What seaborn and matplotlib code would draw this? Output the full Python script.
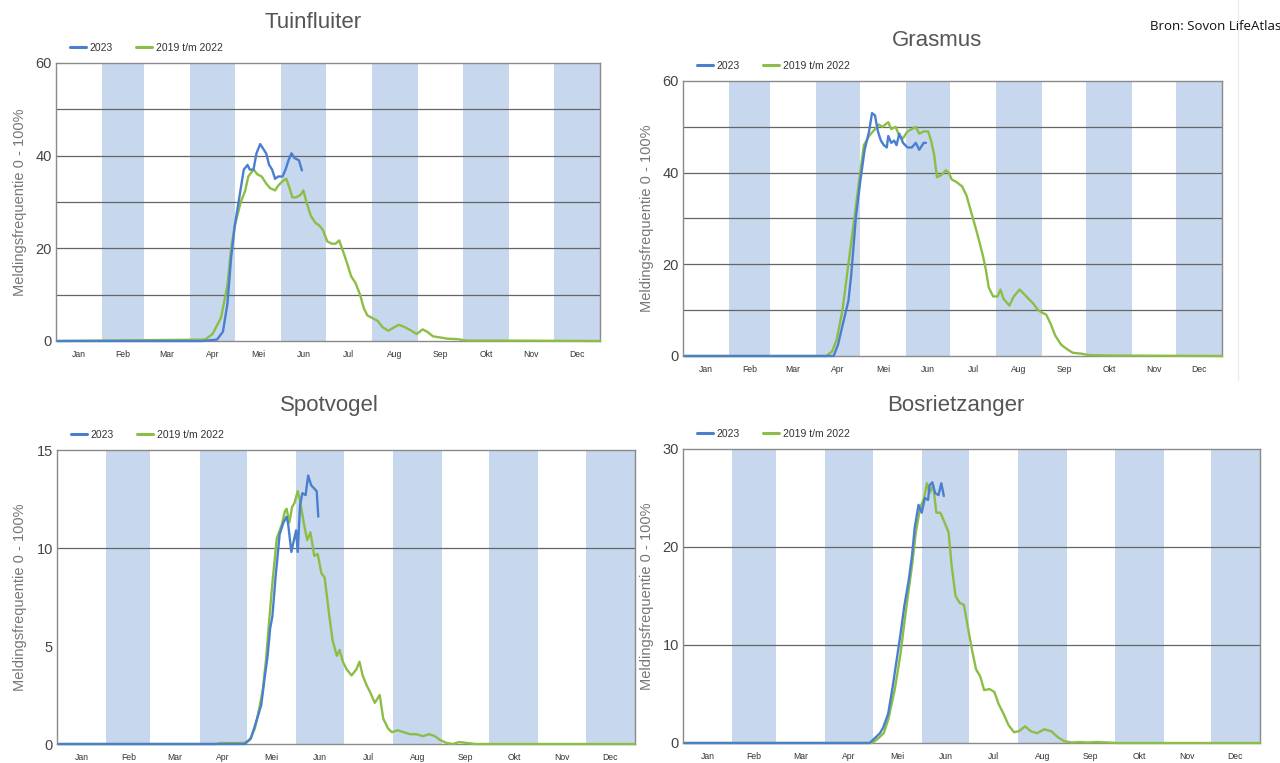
import matplotlib
matplotlib.use("Agg")
import matplotlib.pyplot as plt
from matplotlib.lines import Line2D
import seaborn as sns

# ── DATA ──────────────────────────────────────────────────────────────────────
months = ["Jan", "Feb", "Mar", "Apr", "Mei", "Jun", "Jul", "Aug", "Sep", "Okt", "Nov", "Dec"]
month_starts = [0, 31, 59, 90, 120, 151, 181, 212, 243, 273, 304, 334, 365]
series_labels = ["2023", "2019 t/m 2022"]

tuin_days_2023 = [1, 98, 108, 112, 115, 117.5, 120, 123, 126, 128.5, 130, 132.5, 134.5, 137, 139,
                  141, 143, 145, 147, 149, 152, 154, 156, 158, 160, 163, 165]
tuin_2023 = [0, 0, 0.3, 2, 8, 18, 25, 31, 37, 38, 37, 37, 40.5, 42.5, 41.5,
             40.5, 38, 37, 35, 35.5, 35.5, 37, 39, 40.5, 39.5, 39, 36.8]
tuin_days_ref = [1, 100, 105, 110.7, 115, 117.5, 120, 124, 127, 129, 132.6, 135, 138, 141, 143.6,
                 147, 149, 152, 154.5, 156.7, 158.6, 161, 164, 166, 168, 171, 174, 176.4, 179,
                 182, 185, 187.6, 190, 193, 195.6, 198, 201, 204, 206.6, 209, 212, 216, 219, 223,
                 226, 230, 234, 238, 242, 246, 249, 253, 257, 262.7, 269.5, 275, 291, 365]
tuin_ref = [0, 0.3, 1.5, 5, 12, 20, 25, 30, 32.5, 35.5, 37, 36, 35.5, 34, 33,
            32.5, 33.5, 34.5, 35, 33, 31, 31, 31.5, 32.5, 30, 27, 25.5, 25, 24,
            21.5, 21, 21, 21.7, 19, 16.5, 14, 12.5, 10, 7, 5.5, 5, 4.3, 3, 2.2,
            2.8, 3.5, 3, 2.3, 1.5, 2.5, 2, 1, 0.8, 0.5, 0.4, 0.1, 0.1, 0]

gras_days_2023 = [1, 102, 105, 109, 112, 114, 117, 120, 123, 126, 128, 130, 132, 134, 136, 138,
                  139, 141, 143, 144.6, 146.5, 149, 152, 155, 157.6, 160, 163, 164.5]
gras_2023 = [0, 0, 2.5, 8, 12, 18, 30, 38, 45, 49, 53, 52.5, 49, 47, 46, 45.5,
             48, 46.5, 47, 46, 48.5, 46.5, 45.5, 45.5, 46.5, 45, 46.5, 46.5]
gras_days_ref = [1, 97, 101, 104, 108, 112, 116, 120, 122.5, 126, 130, 132.6, 135, 139, 141, 144,
                 146.5, 149, 152, 155, 157.6, 160, 163, 166, 168, 170, 172, 175, 178, 180, 182,
                 185, 189, 192, 195.5, 199, 203, 205, 207, 210, 213, 215, 217, 221, 224, 228,
                 231, 234, 237, 240.5, 243, 246, 249, 252, 256, 260, 264, 270, 275, 289, 365]
gras_ref = [0, 0, 1, 3.5, 10, 20, 30, 40, 46, 48, 49.5, 50.5, 50, 51, 49.5, 50,
            48, 47.5, 49, 49.5, 50, 48.5, 49, 49, 47, 44, 39, 39.5, 40.5, 40, 38.5,
            38, 37, 35, 31, 27, 22, 19, 15, 13, 13, 14.5, 12.5, 11, 13, 14.5,
            13.5, 12.5, 11.5, 10, 9.5, 9, 7, 4.5, 2.5, 1.5, 0.7, 0.5, 0.2, 0.1, 0]

spot_days_2023 = [1, 118.6, 122.5, 126.4, 129, 131, 133, 134.6, 136, 138, 140.6, 143, 145, 146,
                  148, 149.6, 151, 152, 153.5, 155, 157, 158.6, 160.5, 164, 165]
spot_2023 = [0, 0, 0.3, 1.3, 2, 3.3, 4.5, 5.9, 6.5, 8.5, 10.7, 11.3, 11.6, 11.2,
             9.8, 10.4, 10.9, 9.8, 12.2, 12.8, 12.7, 13.7, 13.2, 12.9, 11.6]
spot_days_ref = [1, 100, 103, 118, 121.7, 125, 127.7, 130, 132, 134, 136, 138.8, 142, 144, 145,
                 146.7, 148.5, 150, 152, 153.5, 156, 158, 160, 162.5, 164.6, 167, 169, 171.7,
                 174, 176.7, 178.5, 180.5, 183, 186, 189, 191, 193, 195.5, 198, 200.7, 203.8,
                 206, 209, 211.5, 215, 219, 223, 227, 231, 235, 238.6, 242, 246, 250, 254,
                 259, 264.4, 365]
spot_ref = [0, 0, 0.05, 0.05, 0.2, 0.8, 1.8, 2.8, 4.3, 6.3, 8.2, 10.5, 11.2, 11.9, 12.0,
            11.3, 12.1, 12.3, 12.9, 12.4, 11.2, 10.4, 10.8, 9.6, 9.7, 8.7, 8.5, 6.7,
            5.3, 4.5, 4.8, 4.2, 3.8, 3.5, 3.8, 4.2, 3.5, 3.0, 2.6, 2.1, 2.5,
            1.3, 0.8, 0.6, 0.7, 0.6, 0.5, 0.5, 0.4, 0.5, 0.4, 0.2, 0.05, 0, 0.1,
            0.05, 0, 0]

bos_days_2023 = [1, 118, 120.7, 124.6, 126.7, 129.8, 132.4, 135, 137.5, 140, 142.7, 144.8, 146.6,
                 149, 151, 153, 155, 156, 157.7, 159.5, 161.6, 163.4, 165]
bos_2023 = [0, 0, 0.4, 1.0, 1.6, 3, 5.5, 8.3, 11, 14, 16.5, 19, 22,
            24.3, 23.5, 25, 24.8, 26.3, 26.6, 25.5, 25.3, 26.5, 25.2]
bos_days_ref = [1, 119.4, 123, 127, 130, 134, 137.5, 141.4, 144.8, 147.3, 150, 152.5, 154.3, 156,
                158.2, 160.3, 162.8, 165.5, 168, 170, 172.4, 175, 177.7, 180, 182.8, 185.4, 188,
                190.5, 194, 197, 199.6, 202.7, 206, 209.4, 212.5, 216.4, 220, 224, 228.5, 233,
                237, 241, 246, 251, 256, 261.6, 269, 274.6, 365]
bos_ref = [0, 0, 0.4, 1, 2.5, 5.5, 9, 14, 18, 21.5, 24, 25, 26.5, 25.5,
           26.3, 23.5, 23.5, 22.5, 21.5, 18, 15, 14.3, 14.1, 12, 9.5, 7.5, 6.8,
           5.4, 5.5, 5.2, 4, 3, 1.8, 1.1, 1.2, 1.7, 1.2, 1.0, 1.4, 1.2,
           0.6, 0.2, 0.05, 0.1, 0.05, 0.1, 0.05, 0, 0]

# ── STYLE ─────────────────────────────────────────────────────────────────────
sns.set_style("white")
plt.rcParams["font.family"] = ["Liberation Sans", "DejaVu Sans"]

BAND = "#c7d7ed"
BLUE = "#4a7fd0"
GREEN = "#8cbd45"
GRID = "#656565"
W, H = 1280, 763

fig = plt.figure(figsize=(12.8, 7.63), dpi=100)


def px_axes(left, top, right, bottom):
    return fig.add_axes([left / W, (H - bottom) / H, (right - left) / W, (bottom - top) / H])


def draw_panel(ax, title, d23, v23, dref, vref, ymax, yticks, ylab_dx, title_dy):
    height_px = ax.get_position().height * H
    width_px = ax.get_position().width * W

    for i in range(1, 12, 2):
        ax.axvspan(month_starts[i], month_starts[i + 1], color=BAND, lw=0, zorder=0)
    for g in range(10, int(ymax), 10):
        ax.axhline(g, color=GRID, lw=0.9, zorder=1)

    sns.lineplot(x=dref, y=vref, color=GREEN, lw=1.7, sort=False, estimator=None,
                 ax=ax, zorder=6, clip_on=False)
    sns.lineplot(x=d23, y=v23, color=BLUE, lw=1.7, sort=False, estimator=None,
                 ax=ax, zorder=7, clip_on=False)

    ax.set_xlim(0, 365)
    ax.set_ylim(0, ymax)
    ax.set_yticks(yticks)
    ax.set_yticklabels([str(t) for t in yticks])
    ax.tick_params(axis="y", length=0, pad=3, labelsize=10.5, labelcolor="#444444")

    centers = [(month_starts[i] + month_starts[i + 1]) / 2 for i in range(12)]
    ax.set_xticks(centers)
    ax.set_xticklabels(months)
    ax.tick_params(axis="x", which="major", length=0, pad=6.5, labelsize=6.2, labelcolor="#333333")
    ax.set_xticks(month_starts[1:12], minor=True)
    ax.tick_params(axis="x", which="minor", length=6, width=0.9, color="#444444", direction="out")
    ax.set_xlabel("")

    ax.set_ylabel("Meldingsfrequentie 0 - 100%", fontsize=10.5, color="#777777")
    ax.yaxis.set_label_coords(-ylab_dx / width_px, 0.5)

    for s in ax.spines.values():
        s.set_color("#8a8a8a")
        s.set_linewidth(1.0)
        s.set_zorder(5)

    ax.text(0.472, 1 + title_dy / height_px, title, transform=ax.transAxes,
            ha="center", va="center", fontsize=16, color="#555555")

    handles = [Line2D([], [], color=BLUE, lw=2.2), Line2D([], [], color=GREEN, lw=2.2)]
    ax.legend(handles, series_labels, ncol=2, loc="center left",
              bbox_to_anchor=(14 / width_px, 1 + 15 / height_px), frameon=False,
              fontsize=7.5, handlelength=1.5, handletextpad=0.4, columnspacing=2.2,
              borderpad=0, borderaxespad=0, labelcolor="#333333")


ax1 = px_axes(56, 63, 600, 341)
draw_panel(ax1, "Tuinfluiter", tuin_days_2023, tuin_2023, tuin_days_ref, tuin_ref,
           60, [0, 20, 40, 60], 29, 41)

ax2 = px_axes(683, 81, 1222, 356)
draw_panel(ax2, "Grasmus", gras_days_2023, gras_2023, gras_days_ref, gras_ref,
           60, [0, 20, 40, 60], 29, 41)

ax3 = px_axes(57, 450, 635, 744)
draw_panel(ax3, "Spotvogel", spot_days_2023, spot_2023, spot_days_ref, spot_ref,
           15, [0, 5, 10, 15], 30, 45)

ax4 = px_axes(683, 449, 1260, 743)
draw_panel(ax4, "Bosrietzanger", bos_days_2023, bos_2023, bos_days_ref, bos_ref,
           30, [0, 10, 20, 30], 29, 44)

# source note and faint screenshot border
fig.text(1150 / W, 1 - 27 / H, "Bron: Sovon LifeAtlas", ha="left", va="center",
         fontsize=9.5, color="#111111", family=["Open Sans", "DejaVu Sans"])
fig.add_artist(Line2D([1238 / W, 1238 / W], [1 - 380 / H, 1.0], color="#ececec", lw=1))

fig.savefig("out.png", dpi=100)
